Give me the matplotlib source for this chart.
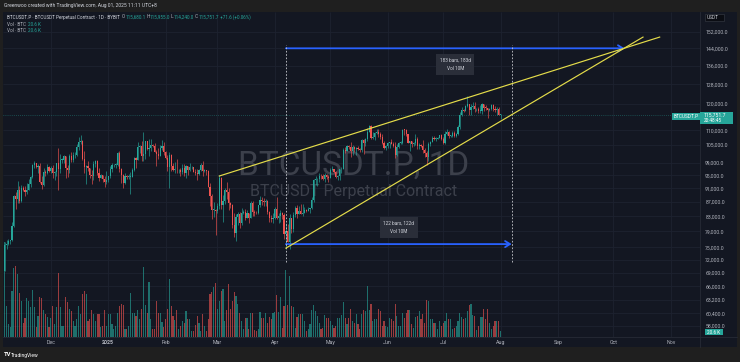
import matplotlib
matplotlib.use("Agg")
import matplotlib.pyplot as plt
import matplotlib.dates as mdates
from matplotlib.patches import Rectangle
from matplotlib.ticker import NullLocator
import numpy as np
import pandas as pd

plt.rcParams['font.family'] = ['Roboto', 'DejaVu Sans']

W, H = 740, 362
FRAME = '#1f1f1f'
BG = '#131722'
UP = '#26a69a'
DOWN = '#ef5350'
TXT = '#b2b5be'
LIGHT = '#d1d4dc'

# daily BTCUSDT.P candles from 2024-11-06 to 2025-08-01, prices in thousand USDT
first_open = 69.4
close_k = [
    # Nov
    75.6, 75.9, 76.5, 76.7, 80.4, 88.7, 87.9, 90.5, 87.3, 91.0, 90.6, 89.9, 90.5, 92.3, 94.3,
    98.3, 98.9, 97.7, 98.0, 93.0, 91.9, 95.9, 95.6, 97.5, 96.4,
    # Dec
    97.2, 95.8, 96.0, 98.8, 96.9, 99.9, 99.9, 101.2, 97.4, 96.6, 101.1, 100.0, 101.4, 101.4, 104.3,
    106.0, 106.1, 100.2, 97.5, 97.8, 97.2, 95.1, 94.7, 98.6, 99.4, 95.8, 94.2, 95.2, 93.7, 92.8, 93.4,
    # Jan
    94.6, 96.9, 98.1, 98.2, 98.3, 102.1, 96.9, 95.0, 92.5, 94.7, 94.5, 94.5, 94.5, 96.5, 100.5,
    99.9, 104.1, 104.4, 101.1, 102.0, 106.1, 103.6, 103.9, 104.8, 104.7, 102.6, 102.0, 101.3, 103.7, 104.7, 102.4,
    # Feb
    100.6, 97.7, 101.4, 97.8, 96.6, 96.6, 96.5, 96.5, 96.1, 97.4, 95.8, 97.8, 96.6, 97.5, 97.6,
    96.1, 95.8, 95.5, 96.6, 98.3, 96.2, 96.5, 96.3, 91.5, 88.7, 84.7, 84.7, 84.4,
    # Mar
    86.0, 94.2, 86.1, 87.2, 90.6, 89.9, 86.7, 86.2, 80.7, 78.5, 82.9, 83.7, 81.1, 83.9, 84.3,
    82.6, 84.0, 82.7, 86.8, 84.2, 84.0, 83.8, 86.1, 87.5, 87.4, 86.9, 87.2, 84.3, 82.6, 82.4, 82.5,
    # Apr
    85.1, 82.5, 83.1, 83.8, 83.5, 78.3, 79.1, 76.3, 82.6, 79.6, 83.4, 85.3, 83.7, 84.6, 83.6,
    84.0, 84.9, 84.4, 85.1, 85.2, 87.5, 93.4, 93.7, 93.9, 94.7, 94.6, 93.8, 95.0, 94.3, 94.2,
    # May
    96.5, 96.9, 95.9, 94.3, 94.7, 96.8, 97.0, 103.2, 102.9, 104.6, 104.1, 102.8, 104.1, 103.5, 103.7,
    103.5, 103.2, 106.5, 105.6, 106.8, 109.6, 111.7, 107.3, 107.8, 109.0, 109.4, 108.9, 107.8, 105.6, 103.9, 104.6,
    # Jun
    105.7, 105.8, 105.4, 104.7, 101.5, 104.3, 105.6, 105.7, 110.3, 110.2, 108.6, 105.7, 106.1, 105.4, 105.6,
    107.0, 104.6, 104.8, 104.6, 103.3, 102.1, 100.9, 105.4, 106.0, 107.3, 106.9, 107.1, 107.3, 108.4, 107.1,
    # Jul
    105.7, 108.9, 109.6, 108.0, 108.2, 109.2, 108.2, 108.9, 111.3, 115.9, 117.5, 117.4, 119.1, 119.8, 117.7,
    118.7, 119.3, 117.9, 117.9, 117.3, 117.4, 119.9, 118.6, 118.4, 117.6, 117.9, 119.4, 118.0, 117.8, 117.9, 115.68,
    # Aug
    115.7517,
]
high_k = [
    76.4, 76.9, 77.2, 76.9, 81.5, 89.0, 89.9, 93.3, 91.8, 91.9, 91.8, 91.7, 92.6, 93.9, 94.9,
    98.4, 99.6, 99.0, 98.6, 98.9, 94.8, 97.3, 96.6, 98.7, 97.9,
    97.9, 98.2, 96.3, 99.0, 104.0, 101.9, 100.6, 101.4, 101.2, 98.3, 101.9, 102.5, 102.6, 102.6, 105.2,
    107.8, 108.3, 106.5, 102.8, 98.1, 99.5, 97.4, 96.5, 99.4, 99.9, 99.9, 97.3, 95.5, 95.2, 94.9, 96.2,
    94.9, 98.0, 98.9, 98.7, 98.8, 102.5, 102.7, 97.2, 95.3, 95.8, 95.0, 95.4, 95.9, 97.4, 100.7,
    100.9, 105.9, 104.9, 106.3, 109.6, 106.4, 106.3, 106.8, 107.1, 105.3, 105.5, 103.2, 103.8, 104.8, 106.5, 106.0,
    102.8, 101.5, 102.5, 101.7, 99.0, 99.2, 100.1, 96.9, 97.3, 98.4, 98.5, 98.1, 97.9, 98.8, 97.9,
    97.7, 97.0, 96.8, 96.9, 98.8, 99.5, 96.9, 96.6, 96.5, 92.5, 89.3, 87.0, 85.1,
    86.6, 95.0, 94.4, 88.9, 91.0, 92.8, 91.2, 86.9, 86.5, 84.0, 83.6, 84.3, 84.3, 85.3, 84.7,
    85.0, 84.7, 84.0, 87.4, 87.4, 84.8, 84.5, 86.1, 88.7, 88.5, 88.3, 87.8, 87.5, 84.6, 83.5, 83.9,
    85.6, 88.5, 83.9, 84.7, 84.2, 83.8, 81.2, 80.9, 83.6, 82.7, 84.3, 85.9, 86.1, 85.8, 86.5,
    86.4, 85.5, 85.0, 85.6, 85.3, 88.5, 93.8, 94.7, 94.0, 95.8, 95.3, 95.4, 95.6, 95.5, 95.2,
    97.4, 97.9, 96.9, 96.3, 95.2, 96.9, 97.6, 103.9, 104.3, 104.9, 105.0, 105.8, 104.9, 104.4, 104.1,
    104.5, 103.7, 107.1, 107.1, 107.3, 110.8, 112.0, 111.9, 109.5, 109.3, 110.4, 110.7, 109.3, 108.9, 106.3, 104.9,
    105.9, 105.9, 106.8, 106.0, 105.9, 105.4, 106.0, 106.4, 110.5, 110.4, 110.4, 108.9, 106.2, 106.2, 106.0,
    108.9, 107.7, 105.5, 105.3, 106.5, 104.0, 103.0, 106.0, 106.3, 108.1, 108.2, 107.8, 107.6, 108.5, 108.8,
    107.5, 109.7, 110.5, 109.7, 108.4, 109.7, 109.7, 109.2, 111.9, 116.8, 118.9, 118.2, 119.5, 123.2, 119.9,
    119.8, 120.9, 120.9, 118.6, 118.9, 119.7, 120.3, 120.1, 119.5, 118.5, 118.3, 119.8, 119.8, 119.3, 118.8, 118.9,
    115.955,
]
low_k = [
    69.3, 74.6, 75.6, 75.8, 76.5, 80.2, 85.1, 86.6, 86.7, 87.1, 90.1, 88.7, 89.4, 90.4, 91.5,
    94.0, 97.2, 97.2, 95.7, 92.6, 90.8, 91.8, 94.6, 95.4, 96.1,
    95.7, 94.2, 93.6, 94.6, 90.5, 95.7, 98.9, 98.8, 94.2, 94.3, 95.6, 99.3, 99.2, 100.6, 101.2,
    103.3, 105.3, 100.0, 95.7, 92.2, 96.4, 94.2, 92.4, 93.4, 97.6, 95.2, 93.3, 94.0, 93.0, 91.3, 92.3,
    92.8, 94.2, 96.0, 97.5, 97.2, 97.9, 96.1, 92.5, 91.2, 92.2, 93.8, 93.7, 89.2, 94.3, 96.4,
    97.3, 99.9, 102.3, 99.6, 99.5, 100.1, 103.3, 101.2, 102.8, 104.1, 102.5, 97.8, 100.3, 101.3, 103.3, 101.6,
    100.3, 96.2, 91.2, 96.2, 96.2, 95.7, 95.7, 95.7, 94.7, 95.3, 94.9, 94.1, 95.2, 96.3, 97.1,
    96.0, 95.0, 93.4, 95.0, 96.4, 94.9, 96.0, 95.2, 91.3, 86.0, 82.3, 82.8, 78.2,
    83.9, 85.1, 85.1, 81.5, 86.4, 87.8, 84.7, 85.3, 80.0, 77.5, 76.6, 80.7, 79.9, 80.8, 83.6,
    82.0, 82.5, 81.1, 82.6, 83.2, 83.2, 83.6, 83.7, 85.6, 86.3, 85.9, 85.9, 83.6, 81.6, 81.5, 81.3,
    82.4, 82.3, 81.2, 81.6, 82.4, 77.2, 74.5, 76.2, 74.6, 78.5, 78.9, 82.8, 82.7, 83.6, 83.6,
    83.1, 83.9, 84.1, 84.4, 83.9, 85.1, 87.0, 91.9, 91.7, 92.9, 93.9, 93.6, 92.9, 93.7, 92.9,
    94.1, 96.3, 95.7, 94.1, 93.5, 93.4, 95.8, 96.9, 102.3, 102.8, 103.4, 100.7, 101.4, 102.6, 101.4,
    103.1, 102.6, 102.6, 102.0, 104.5, 106.1, 109.3, 106.8, 106.9, 106.6, 108.7, 107.6, 106.8, 105.4, 103.6, 103.1,
    103.9, 103.7, 105.1, 104.2, 100.4, 101.1, 103.9, 105.1, 105.3, 108.3, 108.1, 105.6, 102.7, 104.3, 104.5,
    105.0, 103.4, 103.6, 104.1, 102.3, 100.8, 98.2, 99.6, 104.6, 105.9, 106.7, 106.4, 106.8, 107.2, 106.7,
    105.3, 105.1, 108.5, 107.3, 107.8, 107.8, 107.5, 107.5, 108.4, 110.6, 115.2, 116.9, 117.3, 118.9, 115.7,
    115.9, 117.9, 116.9, 117.3, 116.5, 116.6, 116.1, 117.3, 117.6, 114.7, 117.2, 117.8, 117.4, 116.9, 115.8, 115.6,
    114.24,
]
# daily volume, thousand BTC
vol_k = [
    323, 105, 44, 34, 156, 235, 241, 214, 150, 122, 48, 65, 133, 122, 102, 160, 102, 34, 71, 136, 133, 92, 78, 68, 34,
    65, 105, 44, 102, 218, 102, 37, 37, 136, 119, 95, 88, 54, 37, 61, 105, 78, 146, 156, 146, 54, 61, 92, 78, 54,
    78, 78, 34, 37, 92, 37,
    78, 78, 44, 27, 37, 82, 105, 112, 109, 27, 27, 37, 150, 82, 82, 71, 92, 61, 95, 238, 109, 82, 187, 61, 27,
    27, 122, 82, 82, 51, 34,
    61, 95, 197, 105, 71, 58, 92, 27, 37, 54, 48, 88, 61, 61, 20, 20, 41, 71, 48, 20, 78, 37, 20, 61, 146, 153, 170, 184,
    95, 122, 156, 163, 54, 92, 180, 95, 122, 153, 139, 112, 82, 54, 27, 65, 65, 27, 82, 82, 24, 20, 27, 85, 65,
    65, 82, 48, 68, 61, 82,
    85, 143, 85, 136, 31, 105, 228, 109, 207, 105, 102, 31, 68, 78, 78, 78, 54, 20, 27, 44, 92, 109, 88, 71, 48,
    27, 31, 75, 65, 65,
    54, 41, 31, 37, 65, 65, 75, 119, 65, 44, 65, 95, 54, 48, 78, 44, 27, 78, 92, 88, 173, 92, 112, 54, 61,
    61, 95, 88, 37, 54, 37,
    34, 65, 61, 54, 112, 71, 37, 37, 82, 65, 82, 92, 92, 44, 31, 68, 71, 88, 61, 78, 48, 126, 122, 61, 61,
    48, 48, 27, 54, 37,
    48, 54, 82, 61, 61, 27, 31, 37, 54, 82, 68, 61, 65, 88, 109, 112, 75, 71, 24, 37, 68, 68, 95, 61, 95,
    48, 27, 37, 54, 54, 54,
    20.6,
]

price_ticks = [58, 60.4, 63.2, 66, 69, 72, 75, 79, 83, 87, 91, 95, 99, 105, 110, 120, 128, 136, 144, 152]
month_ticks = ['2024-12-01', '2025-01-01', '2025-02-01', '2025-03-01', '2025-04-01', '2025-05-01',
               '2025-06-01', '2025-07-01', '2025-08-01', '2025-09-01', '2025-10-01', '2025-11-01']
month_labels = ['Dec', '2025', 'Feb', 'Mar', 'Apr', 'May', 'Jun', 'Jul', 'Aug', 'Sep', 'Oct', 'Nov']

# drawings on the chart
wedge_upper = [('2025-03-02', 94.75), ('2025-10-26', 149.4)]
wedge_lower = [('2025-04-07', 74.8), ('2025-10-17', 149.4)]
range_short = ('2025-04-07', '2025-08-07', 75.8, '122 bars, 122d\nVol 10M', 80.0)
range_long = ('2025-04-07', '2025-10-07', 144.0, '183 bars, 183d\nVol 10M', 136.6)
marker_dates = ['2025-04-07', '2025-08-07']
marker_span = (71.5, 145.5)
last_price = 115.7517

assert len(close_k) == len(high_k) == len(low_k) == len(vol_k)


def dn(s):
    return mdates.date2num(pd.Timestamp(s).to_pydatetime())


def fx(px):
    return px / W


def fy(py):
    return 1 - py / H


dates = pd.date_range('2024-11-06', periods=len(close_k), freq='D')
x = mdates.date2num(dates.to_pydatetime())
c = np.array(close_k)
o = np.array([first_open] + close_k[:-1])
hi = np.array(high_k)
lo = np.array(low_k)
colors = np.where(c >= o, UP, DOWN)

fig = plt.figure(figsize=(W / 100, H / 100), dpi=100)
fig.patch.set_facecolor(FRAME)

# chart panel background
fig.add_artist(Rectangle((fx(3), fy(347)), fx(737) - fx(3), fy(12) - fy(347),
                         transform=fig.transFigure, facecolor=BG, edgecolor='none', zorder=-5))

rect = [fx(3), fy(337), fx(700) - fx(3), fy(12) - fy(337)]
dec1 = dn('2024-12-01')
xlim = (dec1 - 25.9, dec1 + 350.8)

# volume pane (below)
axv = fig.add_axes(rect)
axv.set_facecolor(BG)
axv.set_xlim(xlim)
axv.set_ylim(0, 1105)
axv.set_xticks([])
axv.set_yticks([])
for s in axv.spines.values():
    s.set_visible(False)

# price pane (on top)
ax = fig.add_axes(rect)
ax.patch.set_visible(False)
ax.set_yscale('log')
ax.set_xlim(xlim)
ax.set_ylim(55.9, 162.2)
for s in ax.spines.values():
    s.set_visible(False)

# grid + watermark on the lower pane
month_x = [dn(m) for m in month_ticks]
axv.vlines(month_x, 0, 1, transform=axv.get_xaxis_transform(), colors='#1d2230', lw=0.6, zorder=0)
axv.hlines(price_ticks, 0, 1, transform=ax.get_yaxis_transform(), colors='#1d2230', lw=0.6, zorder=0)
axv.text(0.503, 0.528, 'BTCUSDT.P, 1D', transform=axv.transAxes, ha='center', va='center',
         fontsize=24, color='#3c404b', zorder=1)
axv.text(0.503, 0.449, 'BTCUSDT Perpetual Contract', transform=axv.transAxes, ha='center', va='center',
         fontsize=11.5, color='#3c404b', zorder=1)

axv.bar(x, vol_k, width=0.62, color=colors, alpha=0.62, lw=0, zorder=2)

# candles
ax.vlines(x, lo, hi, colors=colors, lw=0.45, zorder=3)
body_lo = np.minimum(o, c)
body_h = np.maximum(np.abs(c - o), 0.25)
ax.bar(x, body_h, bottom=body_lo, width=0.62, color=colors, lw=0, zorder=4)

# last price line
ax.axhline(last_price, color=UP, lw=0.5, ls=(0, (1, 2)), alpha=0.7, zorder=2)

# ticks
ax.yaxis.tick_right()
ax.set_yticks(price_ticks)
ax.set_yticklabels([f"{v * 1000:,.1f}" for v in price_ticks])
ax.yaxis.set_minor_locator(NullLocator())
ax.tick_params(axis='y', length=0, pad=3.8, labelsize=3.7, colors=TXT)
ax.set_xticks(month_x)
ax.set_xticklabels(month_labels)
ax.tick_params(axis='x', length=0, pad=2.2, labelsize=3.8, colors=TXT)
for t in ax.get_xticklabels():
    if t.get_text() == '2025':
        t.set_fontweight('bold')

# wedge lines
for seg in (wedge_upper, wedge_lower):
    ax.plot([dn(seg[0][0]), dn(seg[1][0])], [seg[0][1], seg[1][1]], color='#e4dc4a', lw=0.85, zorder=6)

# date ranges
for d0, d1, p, label, py in (range_short, range_long):
    ax.annotate('', xy=(dn(d1), p), xytext=(dn(d0), p),
                arrowprops=dict(arrowstyle='->,head_length=0.35,head_width=0.22', color='#2962ff',
                                lw=1.3, shrinkA=0, shrinkB=0), zorder=5)
    ax.text((dn(d0) + dn(d1)) / 2, py, label, ha='center', va='center', fontsize=3.4, color=LIGHT,
            linespacing=1.9, zorder=7,
            bbox=dict(boxstyle='square,pad=0.75', fc='#2a2e39', ec='none'))
ax.vlines([dn(d) for d in marker_dates], marker_span[0], marker_span[1], colors='#c9cbd1',
          lw=0.6, linestyles=(0, (2, 2)), zorder=5)

# separators of the price / time scales
fig.add_artist(plt.Line2D([fx(700), fx(700)], [fy(12), fy(347)], color='#2a2e39', lw=0.5))
fig.add_artist(plt.Line2D([fx(3), fx(737)], [fy(337), fy(337)], color='#2a2e39', lw=0.5))


def box(x0, y0, x1, y1, fc, ec='none'):
    fig.add_artist(Rectangle((fx(x0), fy(y1)), fx(x1) - fx(x0), fy(y0) - fy(y1),
                             transform=fig.transFigure, facecolor=fc, edgecolor=ec, lw=0.4, zorder=8))


def ptext(px, py, s, **kw):
    kw.setdefault('va', 'center')
    kw.setdefault('zorder', 9)
    return fig.text(fx(px), fy(py), s, **kw)


# price scale labels
box(672, 113, 700, 120, UP)
ptext(673.5, 116.5, 'BTCUSDT.P', fontsize=3.4, color='white')
box(700, 112, 733, 124, UP)
ptext(704, 115.3, '115,751.7', fontsize=3.7, color='white')
ptext(704, 120.6, '20:48:45', fontsize=3.4, color='white')
box(705, 14, 724, 21, '#0b0d13', '#3a3e48')
ptext(707, 17.5, 'USDT', fontsize=3.4, color=LIGHT)
box(705, 329, 723, 335, UP)
ptext(707, 332, '20.6 K', fontsize=3.4, color='white')

# header + footer
ptext(4, 5.5, 'Greenwoo created with TradingView.com, Aug 01, 2025 11:11 UTC+8', fontsize=3.6, color=LIGHT)
ptext(3.5, 355, 'TV', fontsize=4.2, color='white', fontweight='bold')
ptext(10.5, 355, 'TradingView', fontsize=3.6, color='white')

# legend rows
renderer = fig.canvas.get_renderer()


def row(px, py, parts, size):
    for s, col in parts:
        t = ptext(px, py, s, fontsize=size, color=col)
        px += t.get_window_extent(renderer).width


row(7, 17, [('BTCUSDT.P · BTCUSDT Perpetual Contract · 1D · BYBIT  ', LIGHT), ('O', TXT), ('115,680.1', UP),
            (' H', TXT), ('115,955.0', UP), (' L', TXT), ('114,240.0', UP), (' C', TXT), ('115,751.7', UP),
            (' +71.6 (+0.06%)', UP)], 3.3)
row(7, 24, [('Vol · BTC  ', TXT), ('20.6 K', UP)], 3.3)
row(7, 31, [('Vol · BTC  ', TXT), ('20.6 K', UP)], 3.3)

fig.savefig('out.png', dpi=100, facecolor=FRAME)
